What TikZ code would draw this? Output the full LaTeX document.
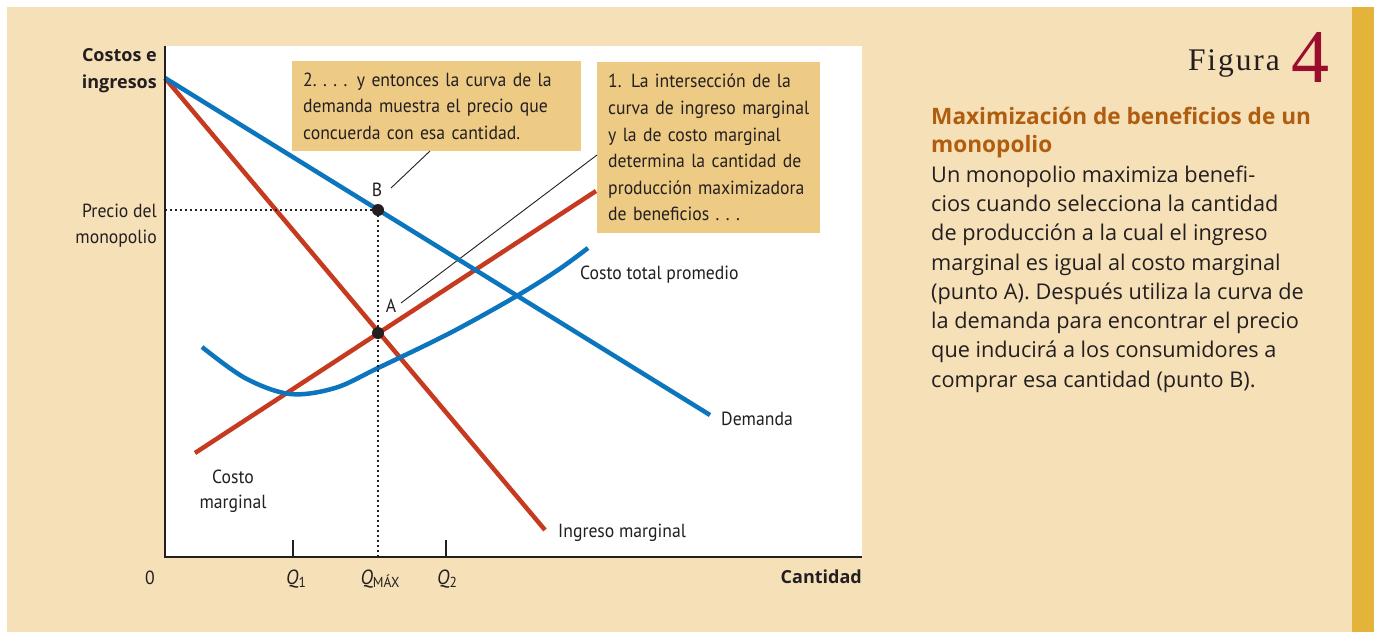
\documentclass[tikz,border=0pt]{standalone}
\usepackage{fontspec}
\setmainfont{Open Sans}
\newfontfamily\cond[FakeStretch=0.93]{PT Sans}
\newfontfamily\figfont[LetterSpace=6]{Liberation Serif}
\newfontfamily\fournum{Liberation Serif}
\definecolor{bg}{HTML}{F6E0B8}
\definecolor{boxc}{HTML}{EECB85}
\definecolor{gold}{HTML}{E3B33A}
\definecolor{cblue}{HTML}{0B75BE}
\definecolor{cred}{HTML}{C63B1F}
\definecolor{ttl}{HTML}{AF5E10}
\definecolor{figred}{HTML}{9B0D2D}
\definecolor{ink}{HTML}{231F20}
\newcommand{\dotsep}{\kern6.5pt}
\begin{document}
\begin{tikzpicture}[x=1pt,y=-1pt,
  curve/.style={line width=4.5pt},
  bluec/.style={curve,cblue},
  redc/.style={curve,cred},
  axisline/.style={line width=1.4pt,ink},
  guide/.style={line width=2.3pt,ink,dash pattern=on 2pt off 3pt},
  leader/.style={line width=0.9pt,ink},
  dotpt/.style={circle,fill=ink,inner sep=0pt,minimum size=12pt},
  lab/.style={font=\cond\fontsize{19}{25}\selectfont,text=ink,inner sep=0pt},
  qlab/.style={font=\cond\fontsize{20.5}{25}\selectfont,text=ink,inner sep=0pt},
  axlab/.style={font=\bfseries\fontsize{18}{26}\selectfont,text=ink,inner sep=0pt},
  note/.style={fill=boxc,anchor=north west,inner xsep=11pt,inner ysep=0pt,align=left,
    font=\cond\fontsize{19}{26.6}\selectfont,text=ink},
  bodyl/.style={anchor=base west,inner sep=0pt,font=\fontsize{21.7}{29}\selectfont,text=ink},
  ttll/.style={anchor=base west,inner sep=0pt,font=\bfseries\fontsize{22.6}{29}\selectfont,text=ttl}
]
\useasboundingbox (0,0) rectangle (1376,632);
\fill[white] (0,0) rectangle (1376,632);
\fill[bg] (7,7) rectangle (1352,632);
\fill[gold] (1352,7) rectangle (1374,632);
\fill[white] (165,46) rectangle (862,557);

% coordinates
\coordinate (Ytop) at (165,46);
\coordinate (O) at (165,557);
\coordinate (Xend) at (862,557);
\coordinate (D0) at (165,78);
\coordinate (D1) at (710,415);
\coordinate (MR1) at (545,530);
\coordinate (MC0) at (195,453);
\coordinate (MC1) at (596,191);
\coordinate (PA) at (378,333);
\coordinate (PB) at (378,210);
\coordinate (PBy) at (165,210);
\coordinate (PBx) at (378,557);
\coordinate (T1a) at (293,540);
\coordinate (T1b) at (293,557);
\coordinate (T2a) at (446,540);
\coordinate (T2b) at (446,557);

% note boxes
\node[note,minimum width=289pt,minimum height=90pt,text width=267pt] (box2) at (292,61)
  {2.\dotsep.\dotsep.\dotsep. y entonces la curva de la\\demanda muestra el precio que\\concuerda con esa cantidad.};
\node[note,minimum width=223pt,minimum height=171pt,text width=201pt] (box1) at (597,62)
  {1. La intersección de la\\curva de ingreso marginal\\y la de costo marginal\\determina la cantidad de\\producción maximizadora\\de beneficios .\dotsep.\dotsep.};

% point labels and leaders
\node[lab] (labB) at (377,190) {B};
\node[lab] (labA) at (391,306) {A};
\coordinate (LB0) at (391,188);
\coordinate (LB1) at (430,151);
\coordinate (LA0) at (401,303);
\coordinate (LA1) at (597,155);
\draw[leader] (LB0) -- (LB1);
\draw[leader] (LA0) -- (LA1);

% curves
\draw[redc] (D0) -- (MR1);
\draw[redc] (MC0) -- (MC1);
\draw[bluec] (D0) -- (D1);
\draw[bluec] plot[smooth,tension=0.55] coordinates {(202,347) (245,378) (290,394) (335,388) (378,368) (450,333) (515,297) (558,270) (588,248)};

% guides
\draw[guide] (PBy) -- (PB);
\draw[guide] (PB) -- (PBx);

% axes
\draw[axisline] (Ytop) -- (O) -- (Xend);
\draw[axisline] (T1a) -- (T1b);
\draw[axisline] (T2a) -- (T2b);

% points
\node[dotpt] (ptB) at (PB) {};
\node[dotpt] (ptA) at (PA) {};

% axis labels
\node[axlab,anchor=base east,align=right] (yl1) at (157,61) {Costos e};
\node[axlab,anchor=base east] (yl2) at (157,88) {ingresos};
\node[lab,anchor=base east] (pm1) at (157,217) {Precio del};
\node[lab,anchor=base east] (pm2) at (157,243) {monopolio};
\node[lab,anchor=base] (zero) at (150,584) {0};
\node[qlab,anchor=base] (q1) at (296,584) {\textit{Q}\raisebox{-3.5pt}{\fontsize{14.5}{14}\selectfont 1}};
\node[qlab,anchor=base] (qm) at (380,584) {\textit{Q}\raisebox{-3.5pt}{\fontsize{14.5}{14}\selectfont MÁX}};
\node[qlab,anchor=base] (q2) at (447,584) {\textit{Q}\raisebox{-3.5pt}{\fontsize{14.5}{14}\selectfont 2}};
\node[axlab,anchor=base east] (xl) at (862,583) {Cantidad};

% curve labels
\node[lab,anchor=base west] (atcl) at (580,279) {Costo total promedio};
\node[lab,anchor=base west] (dl) at (721,425) {Demanda};
\node[lab,anchor=base] (mcl1) at (233,483) {Costo};
\node[lab,anchor=base] (mcl2) at (233,508) {marginal};
\node[lab,anchor=base west] (mrl) at (558,537) {Ingreso marginal};

% right panel
\node[anchor=base east,inner sep=0pt,font=\figfont\fontsize{31.5}{31.5}\selectfont,text=ink] (fig) at (1280,70) {Figura};
\node[anchor=base west,inner sep=0pt,font=\fournum\fontsize{76}{76}\selectfont,text=figred] (fignum) at (1291,82) {4};
\node[ttll] (t1) at (931,124) {Maximización de beneficios de un};
\node[ttll] (t2) at (931,152) {monopolio};
\node[bodyl] (b1) at (931,182) {Un monopolio maximiza benefi-};
\node[bodyl] (b2) at (931,211.5) {cios cuando selecciona la cantidad};
\node[bodyl] (b3) at (931,240.7) {de producción a la cual el ingreso};
\node[bodyl] (b4) at (931,270) {marginal es igual al costo marginal};
\node[bodyl] (b5) at (931,299) {(punto A). Después utiliza la curva de};
\node[bodyl] (b6) at (931,328.3) {la demanda para encontrar el precio};
\node[bodyl] (b7) at (931,357.5) {que inducirá a los consumidores a};
\node[bodyl] (b8) at (931,387) {comprar esa cantidad (punto B).};
\end{tikzpicture}
\end{document}
